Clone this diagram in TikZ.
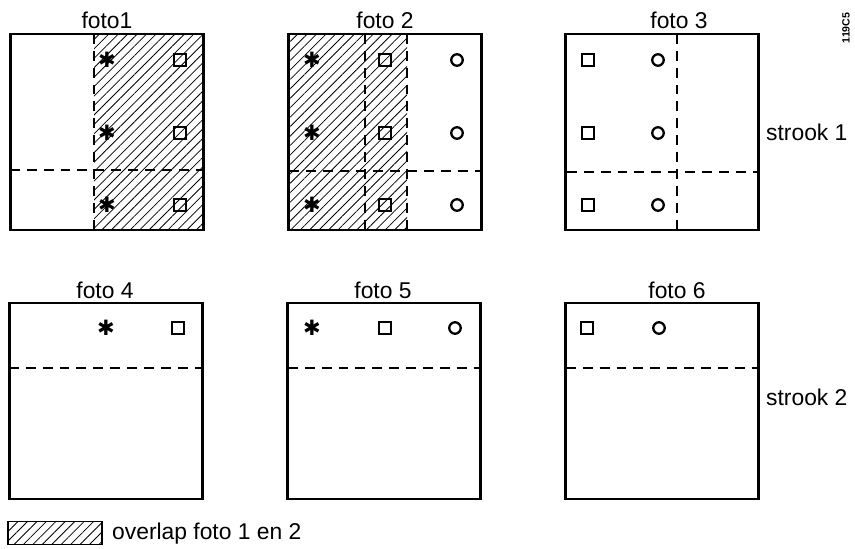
\documentclass[tikz,border=0pt]{standalone}
\usepackage{fontspec}
\setmainfont{Liberation Sans}
\newfontfamily\symfont{DejaVu Sans}
\usetikzlibrary{positioning,patterns.meta,backgrounds}
\def\bw{38.6mm}
\def\bh{39.2mm}

\begin{document}
\begin{tikzpicture}[
  x=0.2mm, y=-0.2mm,
  font=\fontsize{13}{15}\selectfont,
  foto/.style={draw, line width=1.4pt, minimum width=\bw, minimum height=\bh, inner sep=0pt},
  titel/.style={font=\fontsize{13}{15}\selectfont},
  dashline/.style={line width=1.1pt, dash pattern=on 5.6pt off 4pt},
  hatch/.style={pattern={Lines[angle=45,distance=3.8pt,line width=0.45pt]}},
  sq/.style={draw, line width=1.3pt, minimum size=2.3mm, inner sep=0pt},
  rnd/.style={circle, draw, line width=1.3pt, minimum size=2.3mm, inner sep=0pt},
  ster/.style={font=\symfont\fontsize{12}{12}\selectfont, inner sep=0pt},
]
\useasboundingbox (0,0) rectangle (855,549);

% =====================================================================
% STROOK 1 : foto1, foto 2, foto 3
% =====================================================================
\begin{scope}[on background layer]
  \fill[hatch] (94,34) rectangle (204,230);
  \fill[hatch] (289,34) rectangle (407,230);
\end{scope}

\node[foto] (f1) at (107,132) {};
\node[foto] (f2) at (385,132) {};
\node[foto] (f3) at (662,132) {};
\node[titel] (t1) at (107,20) {foto1};
\node[titel] (t2) at (385,20) {foto 2};
\node[titel] (t3) at (679,20) {foto 3};

% dashed overlap borders
\draw[dashline] (94,34) -- (94,230);
\draw[dashline] (10,170) -- (204,170);
\draw[dashline] (365,34) -- (365,230);
\draw[dashline] (407,34) -- (407,230);
\draw[dashline] (289,171) -- (481,171);
\draw[dashline] (677,34) -- (677,230);
\draw[dashline] (567,172) -- (758,172);

% points
\foreach \y [count=\i] in {60,133,205}{
  \node[ster] (a1\i) at (107,\y) {✱};
  \node[sq]   (b1\i) at (180,\y) {};
  \node[ster] (a2\i) at (312,\y) {✱};
  \node[sq]   (b2\i) at (385,\y) {};
  \node[rnd]  (c2\i) at (457,\y) {};
  \node[sq]   (b3\i) at (588,\y) {};
  \node[rnd]  (c3\i) at (658,\y) {};
}

\node[anchor=west] (s1) at (760,132) {strook 1};
\node[rotate=90, font=\fontsize{6}{6}\selectfont\bfseries] (code) at (846,28) {119C5};

% =====================================================================
% STROOK 2 : foto 4, foto 5, foto 6
% =====================================================================
\node[foto] (f4) at (106,401) {};
\node[foto] (f5) at (384,401) {};
\node[foto] (f6) at (662,401) {};
\node[titel] (t4) at (105,290) {foto 4};
\node[titel] (t5) at (383,290) {foto 5};
\node[titel] (t6) at (677,290) {foto 6};

\draw[dashline] (9,368) -- (203,368);
\draw[dashline] (288,368) -- (480,368);
\draw[dashline] (566,368) -- (758,368);

\node[ster] (a4) at (106,328) {✱};
\node[sq]   (b4) at (178,328) {};
\node[ster] (a5) at (312,328) {✱};
\node[sq]   (b5) at (385,328) {};
\node[rnd]  (c5) at (455,328) {};
\node[sq]   (b6) at (587,328) {};
\node[rnd]  (c6) at (659,328) {};

\node[anchor=west] (s2) at (760,397) {strook 2};

% =====================================================================
% LEGEND
% =====================================================================
\node[draw, line width=0.9pt, hatch, minimum width=18.8mm, minimum height=4.6mm, inner sep=0pt] (leg) at (55,533) {};
\node[anchor=west] (legtxt) at (106,534) {overlap foto 1 en 2};

\end{tikzpicture}
\end{document}
